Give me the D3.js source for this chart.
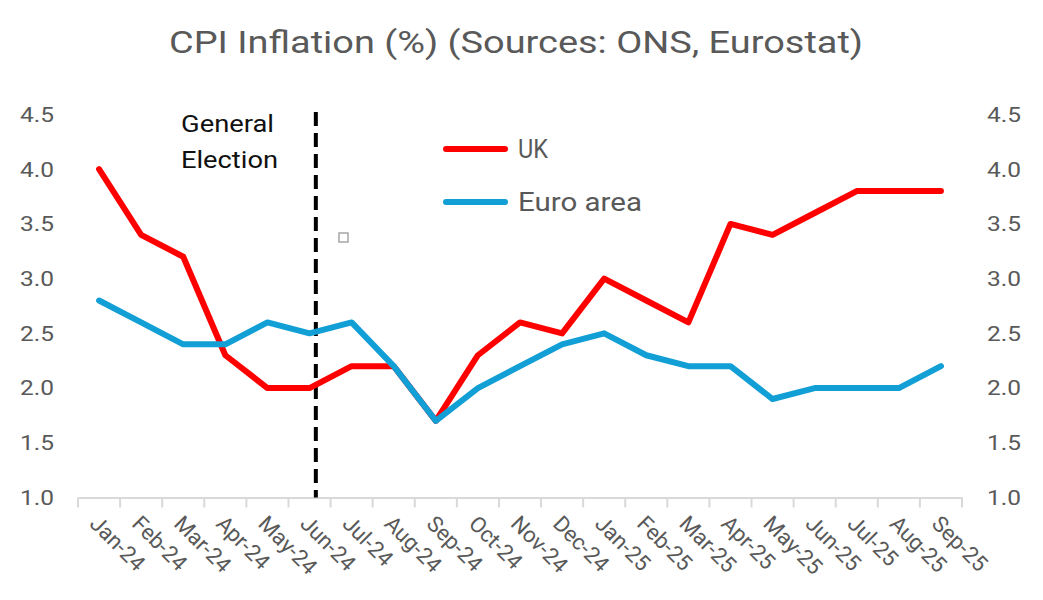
<!DOCTYPE html>
<html><head><meta charset="utf-8">
<script src="https://cdn.jsdelivr.net/npm/d3@7"></script>
<style>
html,body{margin:0;padding:0;background:#fff;}
svg{display:block;font-family:Roboto,"Noto Sans",sans-serif;}
</style></head>
<body>
<svg id="chart" width="1043" height="600"></svg>
<script>
const months = ["Jan-24","Feb-24","Mar-24","Apr-24","May-24","Jun-24","Jul-24","Aug-24","Sep-24","Oct-24","Nov-24","Dec-24","Jan-25","Feb-25","Mar-25","Apr-25","May-25","Jun-25","Jul-25","Aug-25","Sep-25"];
const ukValues = [4.0,3.4,3.2,2.3,2.0,2.0,2.2,2.2,1.7,2.3,2.6,2.5,3.0,2.8,2.6,3.5,3.4,3.6,3.8,3.8,3.8];
const euroValues = [2.8,2.6,2.4,2.4,2.6,2.5,2.6,2.2,1.7,2.0,2.2,2.4,2.5,2.3,2.2,2.2,1.9,2.0,2.0,2.0,2.2];
const yTicks = [1.0,1.5,2.0,2.5,3.0,3.5,4.0,4.5];
const seriesNames = ["UK","Euro area"];
const seriesColors = ["#ff0000","#129fd6"];
const electionMonth = "Jun-24";
const electionOffset = 0.65; // fraction of band after the start of June band
const title = "CPI Inflation (%) (Sources: ONS, Eurostat)";

const svg = d3.select("#chart");
const x = d3.scaleBand().domain(months).range([78, 962]).padding(0);
const y = d3.scaleLinear().domain([1.0, 4.5]).range([497.5, 114.5]);
const cx = d => x(d) + x.bandwidth()/2;

// title
svg.append("text").attr("x", 516).attr("y", 53).attr("text-anchor","middle")
  .attr("font-size", 32).attr("fill","#595959")
  .attr("textLength", 694).attr("lengthAdjust","spacingAndGlyphs")
  .text(title);

// y axis labels left and right
const ylab = d3.format(".1f");
svg.append("g").selectAll("text").data(yTicks).join("text")
  .attr("x", 54).attr("y", d => y(d)).attr("dy","0.35em").attr("text-anchor","end")
  .attr("font-size", 21).attr("fill","#595959")
  .attr("textLength", 34).attr("lengthAdjust","spacingAndGlyphs").text(ylab);
svg.append("g").selectAll("text").data(yTicks).join("text")
  .attr("x", 987).attr("y", d => y(d)).attr("dy","0.35em").attr("text-anchor","start")
  .attr("font-size", 21).attr("fill","#595959")
  .attr("textLength", 34).attr("lengthAdjust","spacingAndGlyphs").text(ylab);

// x axis
const xAxis = d3.axisBottom(x).tickSize(0).tickFormat("");
const gx = svg.append("g").attr("transform", `translate(0,${y(1.0)})`).call(xAxis);
gx.select(".domain").attr("stroke","#d9d9d9").attr("stroke-width",2);
const bounds = months.map(m => x(m)).concat([x(months[months.length-1]) + x.bandwidth()]);
svg.append("g").selectAll("line").data(bounds).join("line")
  .attr("x1", d=>d).attr("x2", d=>d).attr("y1", y(1.0)).attr("y2", y(1.0)+10)
  .attr("stroke","#d9d9d9").attr("stroke-width",2);
svg.append("g").selectAll("text").data(months).join("text")
  .attr("transform", d => `translate(${cx(d)-5},${y(1.0)+22}) rotate(45)`)
  .attr("text-anchor","start").attr("dy","0.35em")
  .attr("font-size", 22).attr("fill","#595959").text(d => d);

// election line
const ex = x(electionMonth) + x.bandwidth()*electionOffset;
svg.append("line").attr("x1", ex).attr("x2", ex).attr("y1", 112).attr("y2", y(1.0))
  .attr("stroke","#000").attr("stroke-width",4).attr("stroke-dasharray","14,7");
svg.append("text").attr("x", 181).attr("y", 132).attr("font-size", 24).attr("fill","#111")
  .attr("textLength", 93).attr("lengthAdjust","spacingAndGlyphs").text("General");
svg.append("text").attr("x", 181).attr("y", 168).attr("font-size", 24).attr("fill","#111")
  .attr("textLength", 97).attr("lengthAdjust","spacingAndGlyphs").text("Election");

// stray small marker
svg.append("rect").attr("x", 339).attr("y", 233).attr("width", 9).attr("height", 9)
  .attr("fill","#fff").attr("stroke","#a6a6a6").attr("stroke-width",1.5);

// lines
const line = d3.line().x((d,i) => cx(months[i])).y(d => y(d));
[ukValues, euroValues].forEach((vals, k) => {
  svg.append("path").datum(vals).attr("d", line).attr("fill","none")
    .attr("stroke", seriesColors[k]).attr("stroke-width", 6)
    .attr("stroke-linejoin","round").attr("stroke-linecap","round");
});

// legend
const legY = [149, 202];
const legW = [30, 124];
seriesNames.forEach((n,k) => {
  svg.append("line").attr("x1", 446).attr("x2", 505).attr("y1", legY[k]).attr("y2", legY[k])
    .attr("stroke", seriesColors[k]).attr("stroke-width", 6).attr("stroke-linecap","round");
  svg.append("text").attr("x", 518).attr("y", legY[k]).attr("dy","0.35em")
    .attr("font-size", 26).attr("fill","#595959")
    .attr("textLength", legW[k]).attr("lengthAdjust","spacingAndGlyphs").text(n);
});
</script>
</body></html>
